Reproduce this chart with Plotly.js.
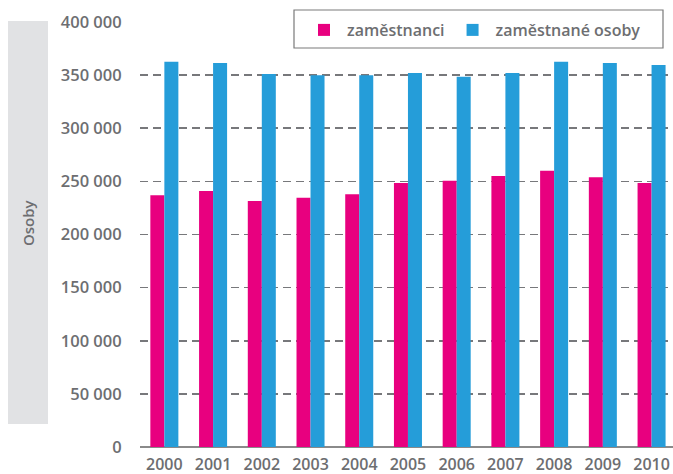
<!DOCTYPE html>
<html>
<head>
<meta charset="utf-8">
<script src="https://cdn.plot.ly/plotly-3.0.1.min.js"></script>
<style>html,body{margin:0;padding:0;background:#fff;}#chart{width:673px;height:474px;}</style>
</head>
<body>
<div id="chart"></div>
<script>
const years = ['2000','2001','2002','2003','2004','2005','2006','2007','2008','2009','2010'];
const zamestnanci = [237000, 241000, 231500, 234500, 238000, 248500, 250500, 255000, 260000, 254000, 248500];
const zamestnaneOsoby = [362500, 361500, 351000, 350000, 350000, 352000, 348500, 352000, 362500, 361500, 359500];
const seriesNames = ['zaměstnanci', 'zaměstnané osoby'];
const yTicks = [0, 50000, 100000, 150000, 200000, 250000, 300000, 350000, 400000];
const yAxisTitle = 'Osoby';

const textColor = '#6d6e71';
const fontFamily = '"Open Sans", "Noto Sans", sans-serif';

const data = [
  {type:'bar', x: years, y: zamestnanci, name: seriesNames[0], marker:{color:'#e8007f'}},
  {type:'bar', x: years, y: zamestnaneOsoby, name: seriesNames[1], marker:{color:'#259dd9'}}
];

const H = 425, L = 140, W = 533;
const px = v => (v - L) / W;
const py = v => (447 - v) / H;
const layout = {
  width: 673, height: 474,
  margin: {l:L, r:0, t:22, b:27, pad:0, autoexpand:false},
  paper_bgcolor:'#fff', plot_bgcolor:'#fff',
  separators: ', ',
  barmode:'group', bargap:0.425, bargroupgap:0,
  font:{family:fontFamily, color:textColor, size:16, weight:600},
  xaxis:{
    type:'category', range:[-0.5, 10.44],
    showgrid:false, showline:false, zeroline:false,
    ticks:'outside', ticklen:3, tickcolor:'rgba(0,0,0,0)',
    tickfont:{family:fontFamily, size:16, color:textColor, weight:600},
    fixedrange:true, automargin:false
  },
  yaxis:{
    range:[0, 400000], tickvals: yTicks, tickformat:',d',
    showgrid:true, gridcolor:'#77787b', gridwidth:1.6, griddash:'8px,5px',
    zeroline:true, zerolinecolor:'#8a8a8a', zerolinewidth:1.8,
    showline:false,
    ticks:'outside', ticklen:14, tickcolor:'rgba(0,0,0,0)',
    tickfont:{family:fontFamily, size:16.5, color:textColor, weight:600},
    fixedrange:true, automargin:false
  },
  showlegend:true,
  legend:{
    orientation:'h', xref:'paper', yref:'paper',
    x: px(301), y: py(30), xanchor:'left', yanchor:'middle',
    bgcolor:'rgba(0,0,0,0)', borderwidth:0,
    font:{family:fontFamily, size:16, color:textColor, weight:600},
    itemwidth:36, traceorder:'normal'
  },
  shapes:[
    {type:'rect', xref:'paper', yref:'paper', layer:'below',
     x0: px(8), x1: px(48), y0: py(424), y1: py(21),
     fillcolor:'#e1e2e4', line:{width:0}},
    {type:'rect', xref:'paper', yref:'paper', layer:'above',
     x0: px(294), x1: px(663), y0: py(48), y1: py(10),
     fillcolor:'#ffffff', line:{color:'#7a7a7a', width:1.2}}
  ],
  annotations:[
    {xref:'paper', yref:'paper', x:px(28), y:py(222), text: yAxisTitle,
     textangle:-90, showarrow:false, xanchor:'center', yanchor:'middle',
     font:{family:fontFamily, size:15, color:textColor, weight:600}}
  ]
};

Plotly.newPlot('chart', data, layout, {displayModeBar:false, staticPlot:true});
</script>
</body>
</html>
